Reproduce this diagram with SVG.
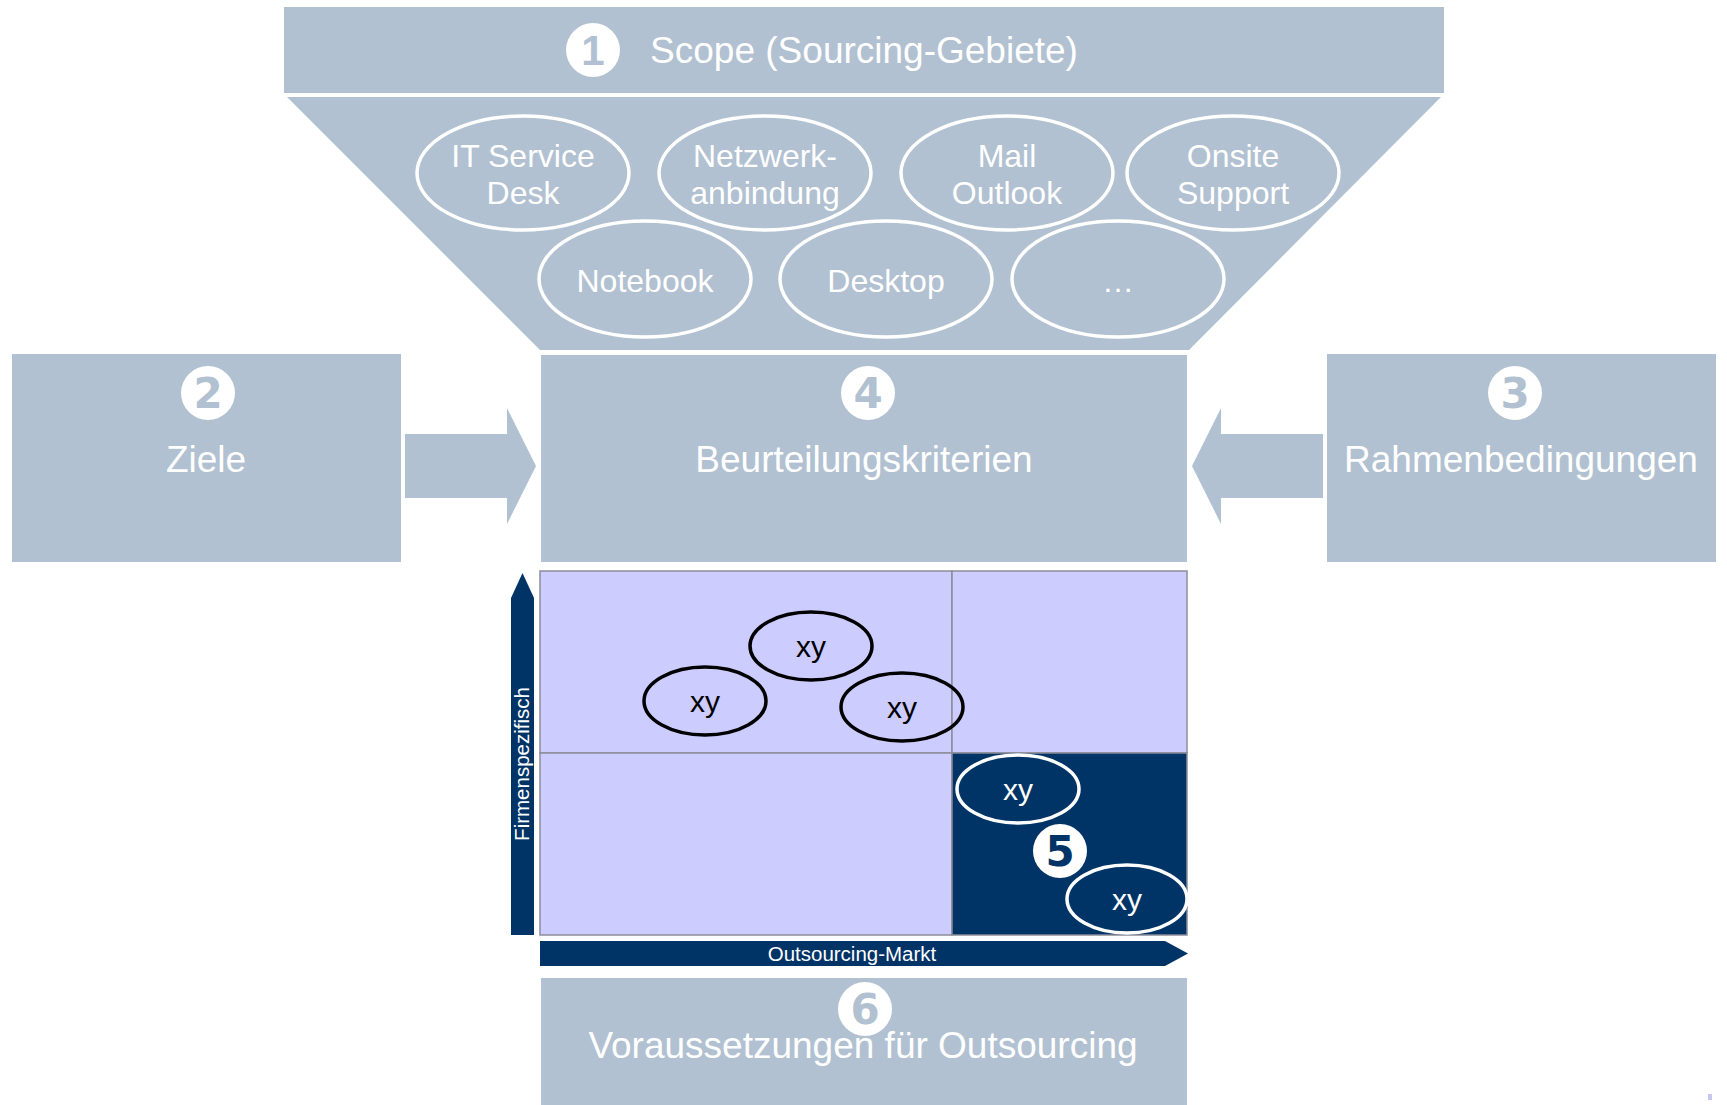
<svg xmlns="http://www.w3.org/2000/svg" width="1727" height="1105" viewBox="0 0 1727 1105">
<style>
.box{fill:#b1c1d1}
.title{font-family:"Liberation Sans",Arial,sans-serif;font-size:37px;fill:#ffffff;text-anchor:middle}
.item{font-family:"Liberation Sans",Arial,sans-serif;font-size:32px;fill:#ffffff;text-anchor:middle}
.oval{fill:none;stroke:#ffffff;stroke-width:3.5}
.numc{fill:#ffffff}
.num{font-family:"DejaVu Sans",Verdana,sans-serif;font-weight:bold;font-size:42px;fill:#b1c1d1;text-anchor:middle}
.quad{fill:#ccccff;stroke:#8c8c99;stroke-width:1.5}
.dark{fill:#003366;stroke:#8c8c99;stroke-width:1.5}
.xyo{fill:none;stroke:#000000;stroke-width:3.5}
.xyw{fill:none;stroke:#ffffff;stroke-width:3.5}
.xy{font-family:"Liberation Sans",Arial,sans-serif;font-size:30px;text-anchor:middle}
.axis{fill:#003366}
.axt{font-family:"Liberation Sans",Arial,sans-serif;font-size:20.5px;fill:#ffffff;text-anchor:middle}
</style>

<g id="node1-scope">
  <rect class="box" x="284" y="7" width="1160" height="86"/>
  <circle class="numc" cx="593" cy="50" r="27"/>
  <text class="num" x="593" y="65" style="font-family:'Liberation Sans',Arial,sans-serif">1</text>
  <text class="title" x="864" y="63">Scope (Sourcing-Gebiete)</text>
</g>

<g id="funnel">
  <polygon class="box" points="287,97 1441,97 1189,350 540,350"/>
  <g id="item-itservicedesk">
    <ellipse class="oval" cx="523" cy="173" rx="106" ry="57"/>
    <text class="item" x="523" y="167">IT Service</text>
    <text class="item" x="523" y="204">Desk</text>
  </g>
  <g id="item-netzwerk">
    <ellipse class="oval" cx="765" cy="173" rx="106" ry="57"/>
    <text class="item" x="765" y="167">Netzwerk-</text>
    <text class="item" x="765" y="204">anbindung</text>
  </g>
  <g id="item-mail">
    <ellipse class="oval" cx="1007" cy="173" rx="106" ry="57"/>
    <text class="item" x="1007" y="167">Mail</text>
    <text class="item" x="1007" y="204">Outlook</text>
  </g>
  <g id="item-onsite">
    <ellipse class="oval" cx="1233" cy="173" rx="106" ry="57"/>
    <text class="item" x="1233" y="167">Onsite</text>
    <text class="item" x="1233" y="204">Support</text>
  </g>
  <g id="item-notebook">
    <ellipse class="oval" cx="645" cy="279" rx="106" ry="58"/>
    <text class="item" x="645" y="292">Notebook</text>
  </g>
  <g id="item-desktop">
    <ellipse class="oval" cx="886" cy="279" rx="106" ry="58"/>
    <text class="item" x="886" y="292">Desktop</text>
  </g>
  <g id="item-more">
    <ellipse class="oval" cx="1118" cy="279" rx="106" ry="58"/>
    <text class="item" x="1118" y="292">…</text>
  </g>
</g>

<g id="node2-ziele">
  <rect class="box" x="12" y="354" width="389" height="208"/>
  <circle class="numc" cx="208" cy="393" r="27"/>
  <text class="num" x="208" y="408">2</text>
  <text class="title" x="206" y="472">Ziele</text>
</g>

<g id="node4-beurteilung">
  <rect class="box" x="541" y="355" width="646" height="207"/>
  <circle class="numc" cx="868" cy="393" r="27"/>
  <text class="num" x="868" y="408">4</text>
  <text class="title" x="864" y="472">Beurteilungskriterien</text>
</g>

<g id="node3-rahmen">
  <rect class="box" x="1327" y="354" width="389" height="208"/>
  <circle class="numc" cx="1515" cy="393" r="27"/>
  <text class="num" x="1515" y="408">3</text>
  <text class="title" x="1521" y="472">Rahmenbedingungen</text>
</g>

<g id="connectors">
  <polygon class="box" points="405,434 507,434 507,408 536,466 507,524 507,498 405,498"/>
  <polygon class="box" points="1323,434 1221,434 1221,408 1192,466 1221,524 1221,498 1323,498"/>
</g>

<g id="node5-matrix">
  <rect class="quad" x="540" y="571" width="412" height="182"/>
  <rect class="quad" x="952" y="571" width="235" height="182"/>
  <rect class="quad" x="540" y="753" width="412" height="182"/>
  <rect class="dark" x="952" y="753" width="235" height="182"/>
  <polygon class="axis" points="511,935 511,598 522.5,573 534,598 534,935"/>
  <text class="axt" transform="translate(529,764) rotate(-90)">Firmenspezifisch</text>
  <polygon class="axis" points="540,941 1165,941 1188,953.5 1165,966 540,966"/>
  <text class="axt" x="852" y="961">Outsourcing-Markt</text>
  <g id="xy-1">
    <ellipse class="xyo" cx="811" cy="646" rx="61" ry="34"/>
    <text class="xy" x="811" y="657" fill="#000000">xy</text>
  </g>
  <g id="xy-2">
    <ellipse class="xyo" cx="705" cy="701" rx="61" ry="34"/>
    <text class="xy" x="705" y="712" fill="#000000">xy</text>
  </g>
  <g id="xy-3">
    <ellipse class="xyo" cx="902" cy="707" rx="61" ry="34"/>
    <text class="xy" x="902" y="718" fill="#000000">xy</text>
  </g>
  <g id="xy-4">
    <ellipse class="xyw" cx="1018" cy="789" rx="61" ry="34"/>
    <text class="xy" x="1018" y="800" fill="#ffffff">xy</text>
  </g>
  <g id="xy-5">
    <ellipse class="xyw" cx="1127" cy="899" rx="60" ry="34"/>
    <text class="xy" x="1127" y="910" fill="#ffffff">xy</text>
  </g>
  <circle class="numc" cx="1060" cy="851" r="27"/>
  <text class="num" x="1060" y="866" style="fill:#003366">5</text>
</g>

<g id="node6-voraussetzungen">
  <rect class="box" x="541" y="978" width="646" height="127"/>
  <circle class="numc" cx="865" cy="1009" r="27"/>
  <text class="num" x="865" y="1024">6</text>
  <text class="title" x="863" y="1058">Voraussetzungen für Outsourcing</text>
</g>

<rect x="1708" y="1094" width="4" height="6" fill="#c8c8ee"/>
</svg>
